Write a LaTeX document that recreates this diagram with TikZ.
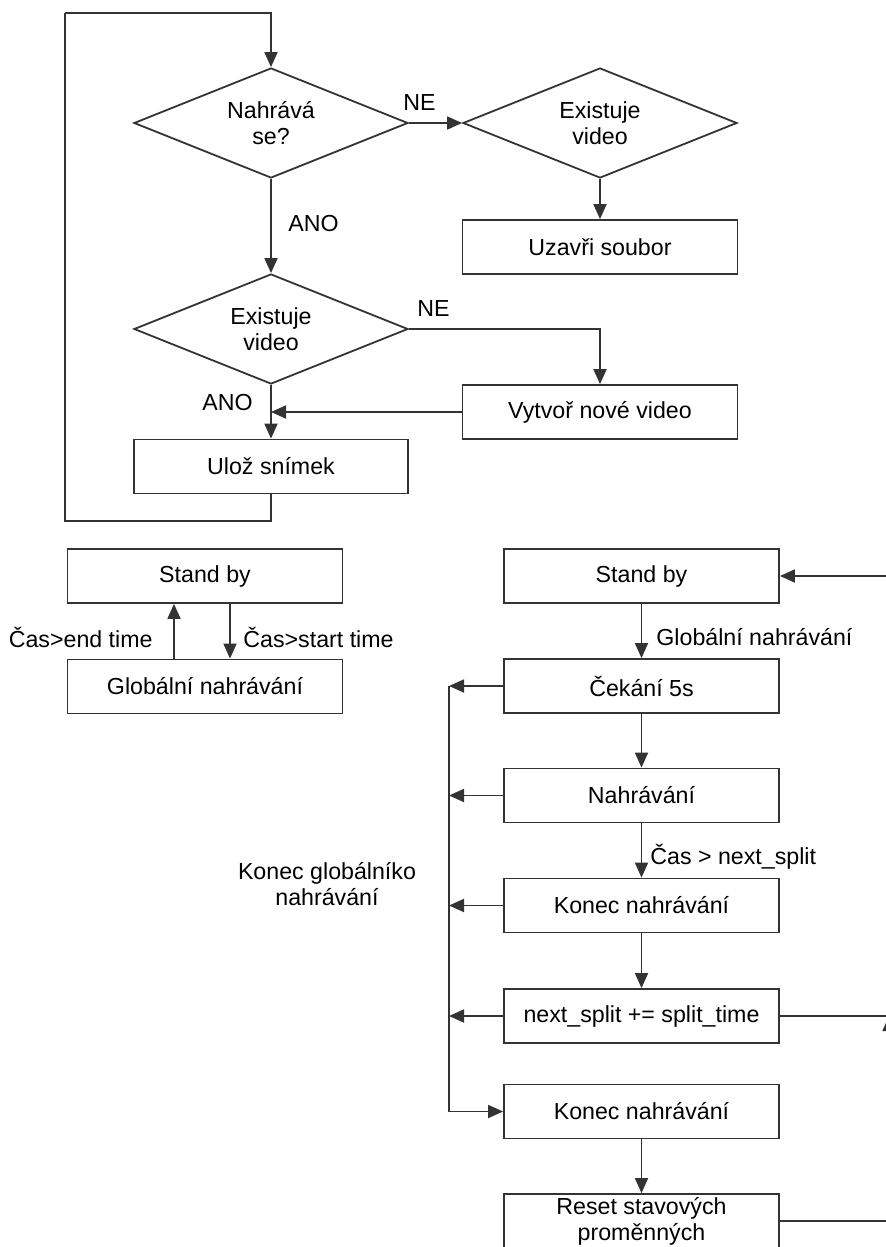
\documentclass[tikz,border=0pt]{standalone}
\usepackage{fontspec}
\setmainfont{Liberation Sans}
\usetikzlibrary{shapes.geometric,arrows.meta}
\definecolor{L}{RGB}{51,51,51}
\newcommand{\drawline}{\draw[line width=0.9pt,L]}
\newcommand{\drawarrow}{\draw[line width=0.9pt,L,-{Triangle[length=7.5pt,width=6.5pt]}]}
\tikzset{
  blok/.style={draw=L,line width=0.9pt,minimum width=137.5pt,minimum height=27pt,inner sep=0pt,align=center},
  rozhod/.style={diamond,draw=L,line width=0.9pt,aspect=2.5,minimum width=137pt,minimum height=55pt,inner sep=0pt,align=center},
  popis/.style={inner sep=0pt,align=center}
}

\begin{document}
\begin{tikzpicture}[x=0.5pt,y=-0.5pt,font=\fontsize{11.6}{13}\selectfont]
\useasboundingbox (0,0) rectangle (886,1247);
\clip (0,0) rectangle (886,1247);
% horni cast - ukladani snimku
\node[rozhod] (nahr) at (271,123) {Nahrává\\se?};
\node[rozhod] (exist1) at (600,123) {Existuje\\video};
\node[blok] (uzav) at (600,247) {Uzavři soubor};
\node[rozhod] (exist2) at (271,329) {Existuje\\video};
\node[blok] (vytv) at (600,412) {Vytvoř nové video};
\node[blok,minimum width=137pt] (uloz) at (271,466.5) {Ulož snímek};
\coordinate (smyckaD) at (65,521);
\coordinate (smyckaH) at (65,13);
\coordinate (spoj) at (271,412);
\drawline (uloz.south) |- (smyckaD) -- (smyckaH);
\drawarrow (smyckaH) -| (nahr.north);
\drawarrow (nahr.east) -- (exist1.west);
\drawarrow (exist1.south) -- (uzav.north);
\drawarrow (nahr.south) -- (exist2.north);
\drawarrow (exist2.east) -| (vytv.north);
\drawarrow (vytv.west) -- (spoj);
\drawarrow (exist2.south) -- (uloz.north);
\node[popis,anchor=west] at (403,103) {NE};
\node[popis,anchor=west] at (288,224) {ANO};
\node[popis,anchor=west] at (417,309) {NE};
\node[popis,anchor=west] at (202,403) {ANO};
% globalni stav
\node[blok] (stand1) at (205,576) {Stand by};
\node[blok] (glob1) at (205,686.5) {Globální nahrávání};
\drawarrow ([xshift=-15.5pt]glob1.north) -- ([xshift=-15.5pt]stand1.south);
\drawarrow ([xshift=12.5pt]stand1.south) -- ([xshift=12.5pt]glob1.north);
\node[popis,anchor=east] at (153,637) {Čas>end time};
\node[popis,anchor=west] at (243,637) {Čas>start time};
% nahravani po castech
\node[blok] (stand2) at (641.5,576) {Stand by};
\node[blok] (cek) at (641.5,686) {Čekání 5s};
\node[blok] (nahr2) at (641.5,795.5) {Nahrávání};
\node[blok] (kon1) at (641.5,905.5) {Konec nahrávání};
\node[blok] (split) at (641.5,1016) {next\_split += split\_time};
\node[blok] (kon2) at (641.5,1111.5) {Konec nahrávání};
\node[blok] (reset) at (641.5,1221) {Reset stavových\\proměnných};
\coordinate (bus) at (449,0);
\coordinate (pravo) at (889,0);
\drawarrow (stand2.south) -- (cek.north);
\drawarrow (cek.south) -- (nahr2.north);
\drawarrow (nahr2.south) -- (kon1.north);
\drawarrow (kon1.south) -- (split.north);
\drawarrow (kon2.south) -- (reset.north);
\foreach \n in {cek,nahr2,kon1,split}{
  \drawarrow (\n.west) -- (\n.west -| bus);
}
\drawarrow (cek.west -| bus) |- (kon2.west);
\drawline (split.east) -- (split.east -| pravo);
\drawarrow (split.east -| pravo) |- (stand2.east);
\drawarrow (reset.east) -| (split.east -| pravo);
\node[popis,anchor=west] at (656,637) {Globální nahrávání};
\node[popis,anchor=west] at (650,857) {Čas > next\_split};
\node[popis] at (327,884) {Konec globálníko\\nahrávání};
\end{tikzpicture}
\end{document}
